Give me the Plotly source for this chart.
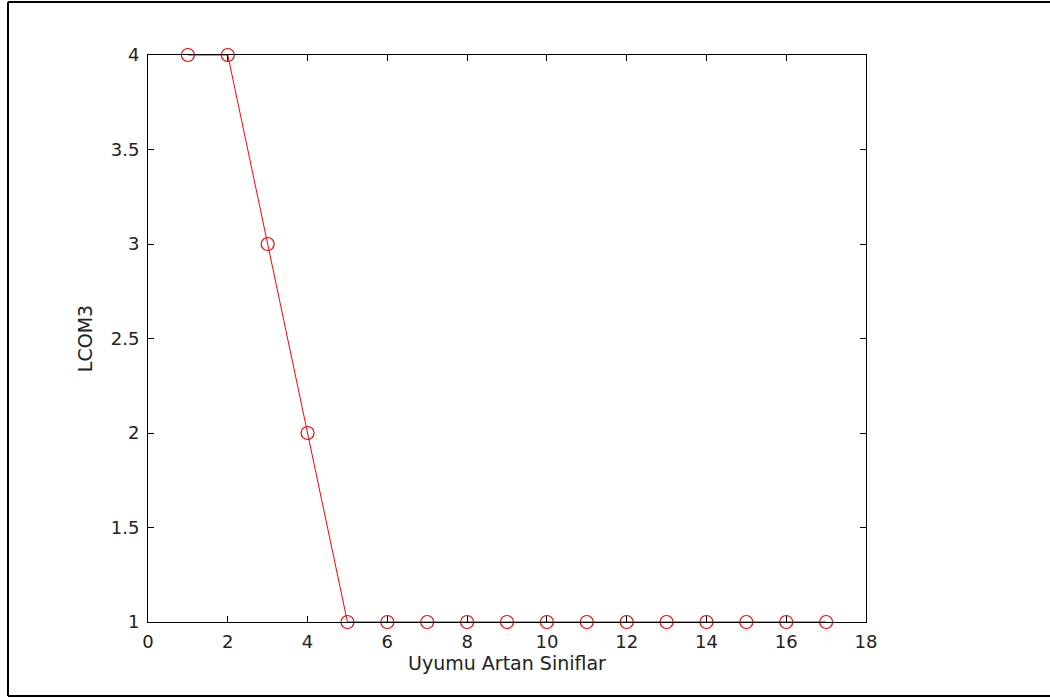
import plotly.graph_objects as go

x_vals = list(range(1, 18))
lcom3 = [4, 4, 3, 2, 1, 1, 1, 1, 1, 1, 1, 1, 1, 1, 1, 1, 1]
x_ticks = [0, 2, 4, 6, 8, 10, 12, 14, 16, 18]
y_ticks = [1, 1.5, 2, 2.5, 3, 3.5, 4]
y_tick_text = ["1", "1.5", "2", "2.5", "3", "3.5", "4"]

L, R, T, B = 148, 866, 55, 622
W, H = 1050, 699
pw, ph = R - L, B - T

def px(x):
    return (x - L) / pw

def py(y):
    return (B - y) / ph

FONT = "DejaVu Sans, Verdana, sans-serif"

fig = go.Figure()
fig.add_trace(go.Scatter(
    x=x_vals, y=lcom3, mode="lines+markers",
    line=dict(color="#ff0000", width=1),
    marker=dict(symbol="circle-open", size=13, color="#ff0000", line=dict(width=1.2)),
    cliponaxis=False, showlegend=False,
))

axis_common = dict(
    showgrid=False, zeroline=False, showline=True, linecolor="#000000", linewidth=1,
    ticks="inside", ticklen=6, tickcolor="#000000", mirror="ticks",
    tickfont=dict(family=FONT, size=18, color="#222222"),
)
fig.update_layout(
    width=W, height=H,
    margin=dict(l=L, r=W - R, t=T, b=H - B),
    paper_bgcolor="white", plot_bgcolor="white",
    xaxis=dict(range=[0, 18], tickvals=x_ticks, ticktext=[str(v) for v in x_ticks],
               ticklabelstandoff=3,
               title=dict(text="Uyumu Artan Siniflar", standoff=6,
                          font=dict(family=FONT, size=19, color="#222222")),
               **axis_common),
    yaxis=dict(range=[1, 4], tickvals=y_ticks, ticktext=y_tick_text,
               ticklabelstandoff=4,
               title=dict(text="LCOM3", standoff=13,
                          font=dict(family=FONT, size=19, color="#222222")),
               **axis_common),
    shapes=[
        dict(type="line", xref="paper", yref="paper", x0=px(8), x1=px(1060), y0=py(2), y1=py(2),
             line=dict(color="#000000", width=2)),
        dict(type="line", xref="paper", yref="paper", x0=px(8), x1=px(8), y0=py(2), y1=py(696),
             line=dict(color="#000000", width=2)),
        dict(type="line", xref="paper", yref="paper", x0=px(8), x1=px(1060), y0=py(696), y1=py(696),
             line=dict(color="#000000", width=2)),
    ],
)
fig.write_html("out.html")
